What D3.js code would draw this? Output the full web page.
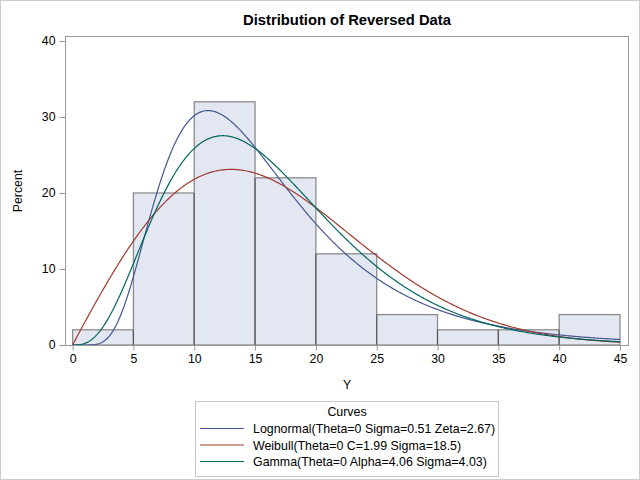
<!DOCTYPE html>
<html><head><meta charset="utf-8">
<script src="https://cdn.jsdelivr.net/npm/d3@7"></script>
<style>body{margin:0;background:#fff}svg{display:block;font-family:"Liberation Sans",Arial,sans-serif}</style>
</head><body><svg id="c" width="640" height="480"></svg>
<script>
// Histogram data (percent per bin)
const binStarts = [0, 5, 10, 15, 20, 25, 30, 35, 40];
const binWidth = 5;
const percents = [2, 20, 32, 22, 12, 4, 2, 2, 4];
const xTicks = [0, 5, 10, 15, 20, 25, 30, 35, 40, 45];
const yTicks = [0, 10, 20, 30, 40];
// Fitted curve parameters (from legend)
const curveNames = ["Lognormal(Theta=0 Sigma=0.51 Zeta=2.67)", "Weibull(Theta=0 C=1.99 Sigma=18.5)", "Gamma(Theta=0 Alpha=4.06 Sigma=4.03)"];
const curveColors = ["#445694", "#A23A2E", "#01665E"];
const lognormalParams = [0.51, 2.67];
const weibullParams = [1.99, 18.5];
const gammaParams = [4.06, 4.03];

function lgamma(z){const g=7,c=[0.99999999999980993,676.5203681218851,-1259.1392167224028,771.32342877765313,-176.61502916214059,12.507343278686905,-0.13857109526572012,9.9843695780195716e-6,1.5056327351493116e-7];
 z-=1;let x=c[0];for(let i=1;i<g+2;i++)x+=c[i]/(z+i);const t=z+g+0.5;return 0.5*Math.log(2*Math.PI)+(z+0.5)*Math.log(t)-t+Math.log(x);}
const dens = [
 x => x<=0?0:Math.exp(-Math.pow(Math.log(x)-lognormalParams[1],2)/(2*lognormalParams[0]**2))/(x*lognormalParams[0]*Math.sqrt(2*Math.PI)),
 x => x<0?0:(weibullParams[0]/weibullParams[1])*Math.pow(x/weibullParams[1],weibullParams[0]-1)*Math.exp(-Math.pow(x/weibullParams[1],weibullParams[0])),
 x => x<=0?0:Math.exp((gammaParams[0]-1)*Math.log(x)-x/gammaParams[1]-lgamma(gammaParams[0])-gammaParams[0]*Math.log(gammaParams[1]))
];

const svg = d3.select("#c");
svg.append("rect").attr("x",0.5).attr("y",0.5).attr("width",639).attr("height",479).attr("fill","#fff").attr("stroke","#cccccc");

const frame = {l:65.5, t:36.5, r:628.5, b:345.5};
const x = d3.scaleLinear().domain([0,45]).range([72.6,620]);
const y = d3.scaleLinear().domain([0,40]).range([345,41]);

// bars
svg.append("g").selectAll("rect").data(binStarts).join("rect")
 .attr("x",(d)=>x(d)).attr("width",(d)=>x(d+binWidth)-x(d))
 .attr("y",(d,i)=>y(percents[i])).attr("height",(d,i)=>y(0)-y(percents[i]))
 .attr("fill","#e3e7f1").attr("stroke","#8c8c8c").attr("stroke-width",1.3);
// darker inner separators
svg.append("g").selectAll("line").data(binStarts.slice(1)).join("line")
 .attr("x1",d=>x(d)).attr("x2",d=>x(d))
 .attr("y1",(d,i)=>y(Math.min(percents[i],percents[i+1]))).attr("y2",y(0))
 .attr("stroke","#555").attr("stroke-width",1);

// curves
const xs = d3.range(0,45.001,0.1);
const line = d3.line().x(d=>x(d[0])).y(d=>y(d[1])).curve(d3.curveLinear);
dens.forEach((f,i)=>{
 svg.append("path").datum(xs.map(v=>[v,f(v)*binWidth*100]))
  .attr("d",line).attr("fill","none").attr("stroke",curveColors[i]).attr("stroke-width",1.2);
});

// frame
svg.append("rect").attr("x",frame.l).attr("y",frame.t).attr("width",frame.r-frame.l).attr("height",frame.b-frame.t)
 .attr("fill","none").attr("stroke","#999").attr("stroke-width",1);

// axes
const xAxis = svg.append("g").attr("transform",`translate(0,${frame.b})`)
 .call(d3.axisBottom(x).tickValues(xTicks).tickSize(5).tickPadding(4));
const yAxis = svg.append("g").attr("transform",`translate(${frame.l},0)`)
 .call(d3.axisLeft(y).tickValues(yTicks).tickSize(6).tickPadding(4));
[xAxis,yAxis].forEach(a=>{
 a.select(".domain").remove();
 a.selectAll(".tick line").attr("stroke","#999");
 a.selectAll("text").attr("font-size",12.3).attr("fill","#000").attr("font-family","Liberation Sans, Arial, sans-serif");
});

// titles
svg.append("text").attr("x",347).attr("y",25).attr("text-anchor","middle").attr("font-size",14.8).attr("font-weight","bold").text("Distribution of Reversed Data");
svg.append("text").attr("x",347).attr("y",389).attr("text-anchor","middle").attr("font-size",12.3).text("Y");
svg.append("text").attr("transform","translate(22,191) rotate(-90)").attr("text-anchor","middle").attr("font-size",12.3).text("Percent");

// legend
const lg = svg.append("g");
lg.append("rect").attr("x",195.5).attr("y",401.5).attr("width",303).attr("height",75).attr("fill","#fff").attr("stroke","#c8c8c8");
lg.append("text").attr("x",347).attr("y",416).attr("text-anchor","middle").attr("font-size",12.4).text("Curves");
curveNames.forEach((n,i)=>{
 const yy = 428.5 + i*16.5;
 lg.append("line").attr("x1",200).attr("x2",244).attr("y1",yy).attr("y2",yy).attr("stroke",curveColors[i]).attr("stroke-width",1.2);
 lg.append("text").attr("x",253).attr("y",yy+4.5).attr("font-size",12.4).text(n);
});
</script></body></html>
